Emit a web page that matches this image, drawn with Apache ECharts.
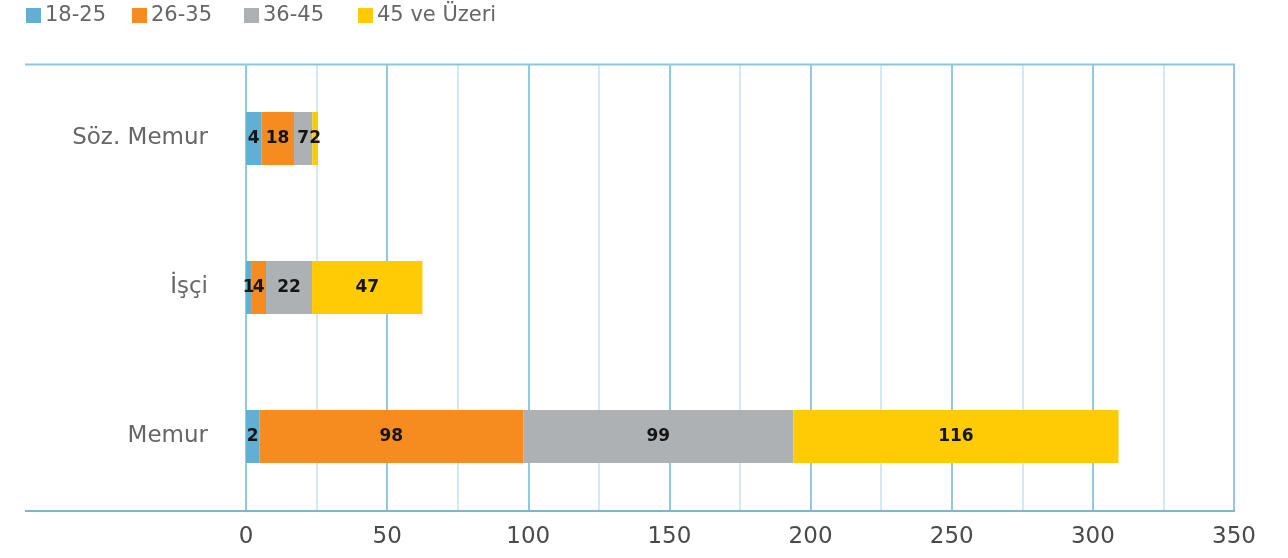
<!DOCTYPE html>
<html>
<head>
    <meta charset="utf-8">
    <title></title>
    <style type="text/css">
        html, body { margin: 0; padding: 0; background: #ffffff; }
        #main { width: 1288px; height: 558px; }
    </style>
</head>
<body>
    <div id="main"></div>
</body>
<script src="https://cdn.jsdelivr.net/npm/echarts@6/dist/echarts.min.js"></script>
<script type="text/javascript">
    // kategoriler (alttan üste)
    var categories = ['Memur', 'İşçi', 'Söz. Memur'];
    var seriesNames = ['18-25', '26-35', '36-45', '45 ve Üzeri'];
    var colors = ['#62afd4', '#f68b1f', '#aeb1b4', '#ffcb05'];

    // çubuk uzunlukları (resimden ölçülen)
    var len1825 = [4.7, 1.8, 5.4];
    var len2635 = [93.5, 5.3, 11.6];
    var len3645 = [95.7, 16.3, 6.5];
    var len45 = [115.2, 39.1, 2.0];

    // çubuk üzerindeki etiketler
    var lab1825 = [2, 1, 4];
    var lab2635 = [98, 4, 18];
    var lab3645 = [99, 22, 7];
    var lab45 = [116, 47, 2];

    var xTicks = [0, 50, 100, 150, 200, 250, 300, 350];

    var lengths = [len1825, len2635, len3645, len45];
    var labels = [lab1825, lab2635, lab3645, lab45];

    var font = 'DejaVu Sans';
    var legendLeft = [21, 127, 239, 353];

    var series = [];
    for (var i = 0; i < seriesNames.length; i++) {
        (function (k) {
            series.push({
                name: seriesNames[k],
                type: 'bar',
                stack: 'toplam',
                barWidth: 53,
                itemStyle: { color: colors[k] },
                label: {
                    show: true,
                    position: 'inside',
                    color: '#151515',
                    fontFamily: font,
                    fontSize: 17,
                    fontWeight: 'bold',
                    formatter: function (p) {
                        return labels[k][p.dataIndex];
                    }
                },
                data: lengths[k]
            });
        })(i);
    }

    // her lejant öğesi ayrı konumda
    var legends = [];
    for (var j = 0; j < seriesNames.length; j++) {
        legends.push({
            left: legendLeft[j],
            top: 0,
            itemWidth: 15,
            itemHeight: 15,
            icon: 'rect',
            textStyle: { fontSize: 21, color: '#666', fontFamily: font, padding: [0, 0, 0, -1] },
            data: [seriesNames[j]]
        });
    }

    var myChart = echarts.init(document.getElementById('main'));
    myChart.setOption({
        backgroundColor: '#ffffff',
        animation: false,
        textStyle: { fontFamily: font },
        legend: legends,
        grid: {
            left: 246,
            right: 54,
            top: 64,
            bottom: 47,
            containLabel: false
        },
        graphic: [
            {
                type: 'line',
                shape: { x1: 25, y1: 64.5, x2: 1235, y2: 64.5 },
                style: { stroke: '#8cc5dc', lineWidth: 2 },
                z: 1
            },
            {
                type: 'line',
                shape: { x1: 25, y1: 511, x2: 1235, y2: 511 },
                style: { stroke: '#79b6d2', lineWidth: 2 },
                z: 1
            }
        ],
        xAxis: {
            type: 'value',
            min: xTicks[0],
            max: xTicks[xTicks.length - 1],
            interval: 50,
            axisLine: { show: false },
            axisTick: { show: false },
            axisLabel: {
                fontSize: 23,
                color: '#4a4a4a',
                fontFamily: font,
                margin: 15
            },
            splitLine: { show: true, lineStyle: { color: '#93c9df', width: 2 } },
            minorTick: { show: false, splitNumber: 2 },
            minorSplitLine: { show: true, lineStyle: { color: '#d6e9f2', width: 2 } }
        },
        yAxis: {
            type: 'category',
            data: categories,
            axisLine: { show: false },
            axisTick: { show: false },
            axisLabel: {
                fontSize: 23,
                color: '#666',
                fontFamily: font,
                margin: 38
            }
        },
        series: series
    });
</script>
</html>
